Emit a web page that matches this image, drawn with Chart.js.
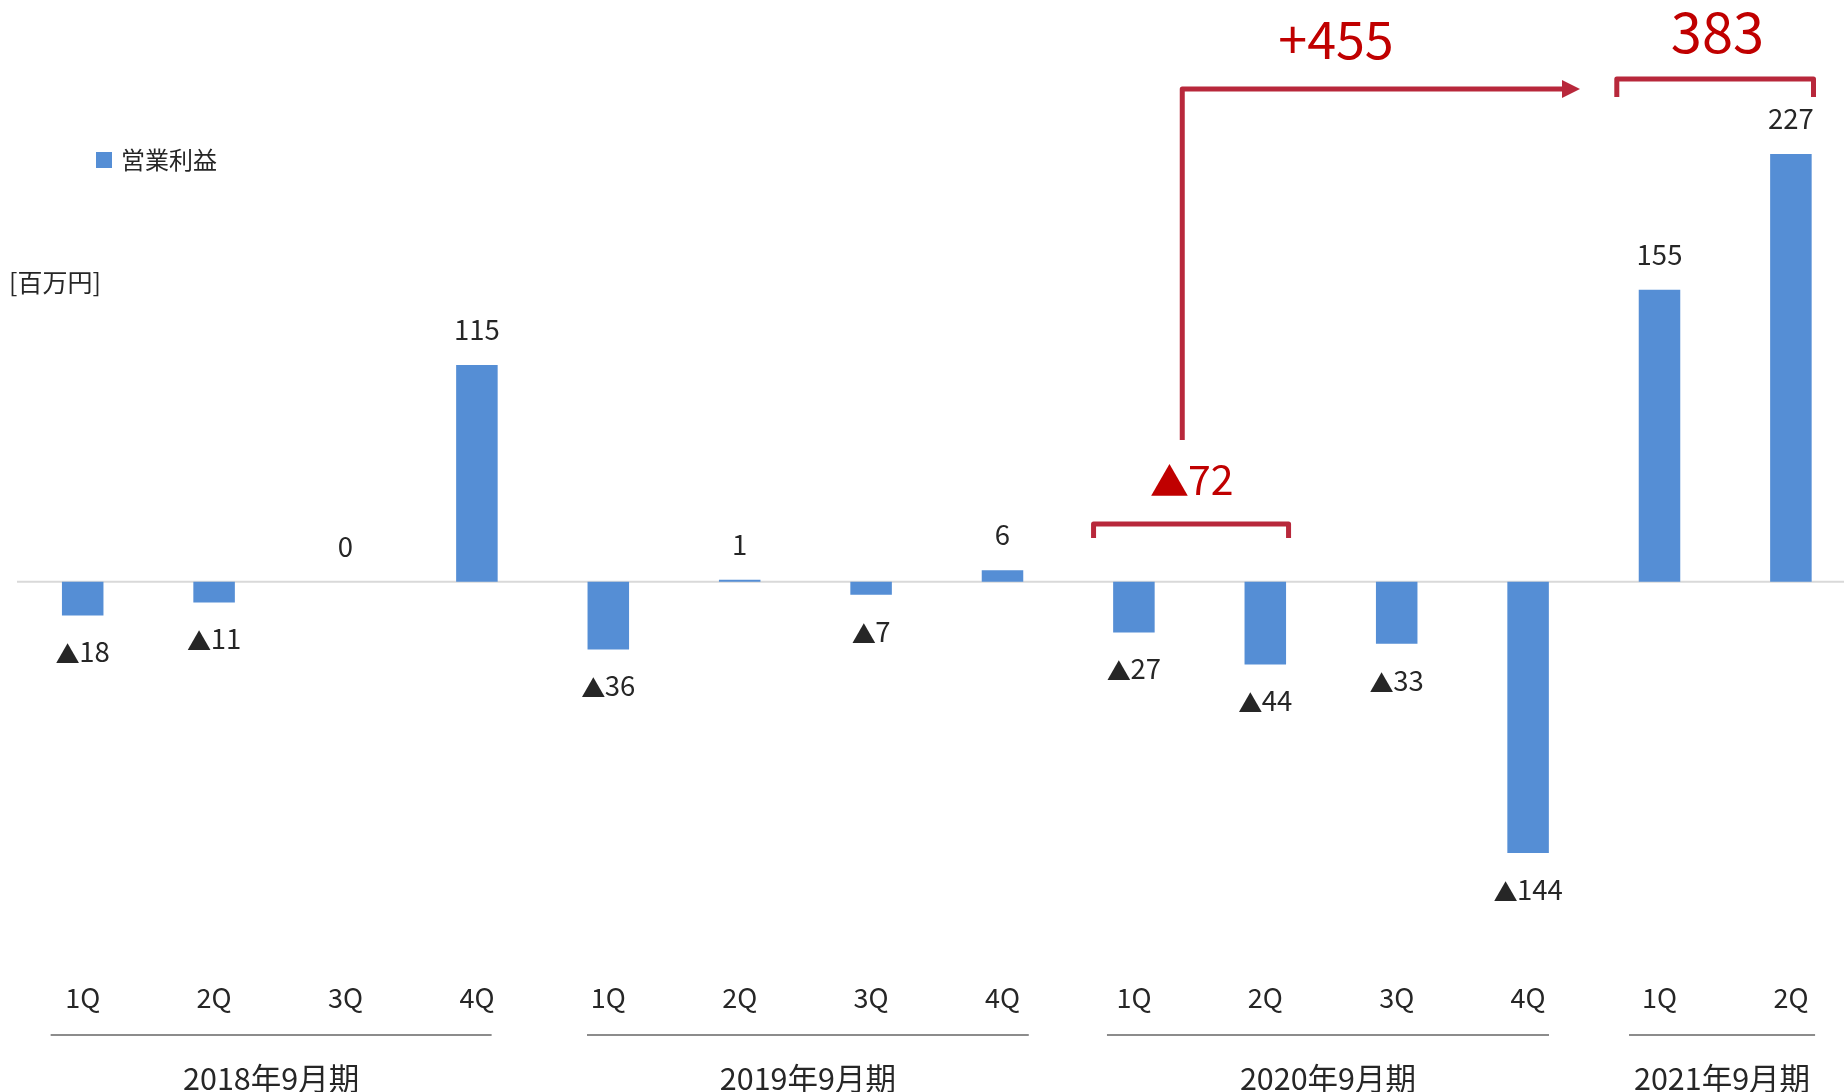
<!DOCTYPE html>
<html>
<head>
<meta charset="utf-8">
<script src="https://cdn.jsdelivr.net/npm/chart.js@4/dist/chart.umd.min.js"></script>
<style>
  html, body { margin: 0; padding: 0; background: #ffffff; overflow: hidden; }
  #wrap { width: 1860px; height: 1092px; position: relative; }
</style>
</head>
<body>
<div id="wrap"><canvas id="c" width="1860" height="1092"></canvas></div>
<script>
// ---- data ----
const quarterLabels = ['1Q','2Q','3Q','4Q','1Q','2Q','3Q','4Q','1Q','2Q','3Q','4Q','1Q','2Q'];
const operatingProfit = [-18, -11, 0, 115, -36, 1, -7, 6, -27, -44, -33, -144, 155, 227];
const seriesName = '営業利益';
const unitLabel = '[百万円]';
const fiscalGroups = ['2018年9月期', '2019年9月期', '2020年9月期', '2021年9月期'];
const groupFirst = [0, 4, 8, 12];
const groupLast = [3, 7, 11, 13];
const changeLabel = '+455';
const totalLabel = '383';
const prevTotalLabel = '▲72';

const FONT = '"Noto Sans CJK JP", "Noto Sans", sans-serif';
const TEXT = '#262626';
const RED_TEXT = '#c00000';
const RED_LINE = '#b8283b';
const groupLineStart = [-0.244, -0.162, -0.205, -0.232];
const groupLineEnd = [0.112, 0.2, 0.159, 0.184];

function fmt(v) { return v < 0 ? '▲' + Math.abs(v) : String(v); }

// draw text centred at (cx, cy); a leading ▲ is drawn slightly smaller, as in the reference
function drawLabel(ctx, text, cx, cy, size, color, triScale) {
  ctx.save();
  ctx.fillStyle = color;
  ctx.textBaseline = 'alphabetic';
  ctx.textAlign = 'left';
  let tri = '', rest = text;
  if (text.startsWith('▲')) { tri = '▲'; rest = text.slice(1); }
  const triSize = size * (triScale || 0.88);
  ctx.font = triSize + 'px ' + FONT;
  const tw = tri ? ctx.measureText(tri).width : 0;
  ctx.font = size + 'px ' + FONT;
  const rm = ctx.measureText(rest);
  const gap = tri ? -size * 0.02 : 0;
  const total = tw + gap + rm.width;
  const base = cy + size * 0.36;
  let x0 = cx - total / 2;
  if (tri) {
    ctx.font = triSize + 'px ' + FONT;
    ctx.fillText(tri, x0, base + size * 0.03);
  }
  ctx.font = size + 'px ' + FONT;
  ctx.fillText(rest, x0 + tw + gap, base);
  ctx.restore();
}

const overlay = {
  id: 'overlay',
  beforeDatasetsDraw(chart) {
    const {ctx, chartArea} = chart;
    const y = chart.scales.y;
    const y0 = y.getPixelForValue(0);
    ctx.save();
    ctx.strokeStyle = '#d9d9d9';
    ctx.lineWidth = 2;
    ctx.beginPath();
    ctx.moveTo(chartArea.left, y0);
    ctx.lineTo(chart.width, y0);
    ctx.stroke();
    ctx.restore();
  },
  afterDatasetsDraw(chart) {
    const {ctx} = chart;
    const x = chart.scales.x, y = chart.scales.y;
    const meta = chart.getDatasetMeta(0);
    ctx.save();
    meta.data.forEach((bar, i) => {
      const v = operatingProfit[i];
      const ly = v < 0 ? bar.y + 37 : bar.y - 35;
      drawLabel(ctx, fmt(v), bar.x, ly, 27.5, TEXT, 0.88);
    });
    ctx.textAlign = 'center';
    ctx.textBaseline = 'middle';
    ctx.fillStyle = TEXT;
    ctx.font = '27px ' + FONT;
    quarterLabels.forEach((q, i) => {
      ctx.fillText(q, x.getPixelForValue(i), 998);
    });
    fiscalGroups.forEach((g, k) => {
      const xs = x.getPixelForValue(groupFirst[k] + groupLineStart[k]);
      const xe = x.getPixelForValue(groupLast[k] + groupLineEnd[k]);
      ctx.strokeStyle = '#8c8c8c';
      ctx.lineWidth = 2;
      ctx.beginPath();
      ctx.moveTo(xs, 1035);
      ctx.lineTo(xe, 1035);
      ctx.stroke();
      ctx.fillStyle = TEXT;
      ctx.font = '30.5px ' + FONT;
      ctx.fillText(g, (xs + xe) / 2, 1078);
    });
    ctx.fillStyle = '#558ed5';
    ctx.fillRect(96, 152, 16, 16);
    ctx.fillStyle = TEXT;
    ctx.textAlign = 'left';
    ctx.font = '24px ' + FONT;
    ctx.fillText(seriesName, 121, 160);
    ctx.font = '25px ' + FONT;
    ctx.fillText(unitLabel, 9, 282);

    ctx.strokeStyle = RED_LINE;
    ctx.fillStyle = RED_LINE;
    ctx.lineWidth = 5;
    ctx.lineJoin = 'round';
    ctx.lineCap = 'butt';
    const ax = x.getPixelForValue(8.368);
    const ayTop = y.getPixelForValue(261.5);
    const ayBot = y.getPixelForValue(75.2);
    const tip = x.getPixelForValue(11.395);
    ctx.beginPath();
    ctx.moveTo(ax, ayBot);
    ctx.lineTo(ax, ayTop);
    ctx.lineTo(tip - 16, ayTop);
    ctx.stroke();
    ctx.beginPath();
    ctx.moveTo(tip - 18, ayTop - 9);
    ctx.lineTo(tip, ayTop);
    ctx.lineTo(tip - 18, ayTop + 9);
    ctx.closePath();
    ctx.fill();
    function bracket(i0, i1, vTop, vBot) {
      const l = x.getPixelForValue(i0), r = x.getPixelForValue(i1);
      const t = y.getPixelForValue(vTop), b = y.getPixelForValue(vBot);
      ctx.beginPath();
      ctx.moveTo(l, b);
      ctx.lineTo(l, t);
      ctx.lineTo(r, t);
      ctx.lineTo(r, b);
      ctx.stroke();
    }
    bracket(11.675, 13.172, 266.8, 257.3);
    bracket(7.693, 9.177, 30.6, 23.2);
    ctx.restore();
    drawLabel(ctx, changeLabel, x.getPixelForValue(9.538), y.getPixelForValue(287.3), 52, RED_TEXT);
    drawLabel(ctx, totalLabel, x.getPixelForValue(12.441), y.getPixelForValue(291.5), 56, RED_TEXT);
    drawLabel(ctx, prevTotalLabel, x.getPixelForValue(8.44), y.getPixelForValue(53.7), 41, RED_TEXT, 0.95);
  }
};

new Chart(document.getElementById('c'), {
  type: 'bar',
  data: {
    labels: quarterLabels,
    datasets: [{
      label: seriesName,
      data: operatingProfit,
      backgroundColor: '#558ed5',
      borderWidth: 0,
      categoryPercentage: 1,
      barPercentage: 0.316
    }]
  },
  options: {
    responsive: false,
    animation: false,
    devicePixelRatio: 1,
    layout: { padding: { left: 17, right: 3.4, top: 129.5, bottom: 208.9 } },
    plugins: { legend: { display: false }, tooltip: { enabled: false } },
    scales: {
      x: { display: false },
      y: { display: false, min: -160, max: 240 }
    }
  },
  plugins: [overlay]
});
</script>
</body>
</html>
